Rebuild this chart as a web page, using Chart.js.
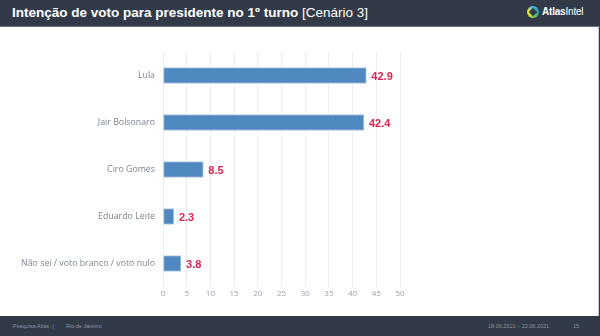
<!DOCTYPE html>
<html>
<head>
<meta charset="utf-8">
<script src="https://cdn.jsdelivr.net/npm/chart.js@4"></script>
<style>
  html, body { margin: 0; padding: 0; }
  body { width: 600px; height: 336px; position: relative; overflow: hidden; background: #323a48; font-family: "Liberation Sans", Arial, sans-serif; }
  #header { position: absolute; left: 0; top: 0; width: 600px; height: 26px; background: #323a48; border-bottom: 1px solid #6b717c; }
  #title { position: absolute; left: 12px; top: 5px; color: #fff; font-size: 13.5px; font-weight: bold; white-space: nowrap; }
  #title span { font-weight: normal; }
  #logo { position: absolute; left: 527px; top: 6px; width: 12px; height: 12px; border-radius: 50%;
    background: conic-gradient(#3fb6e8, #1fa0a0, #8bd14a, #f2e33a, #3fb6e8); }
  #logo::after { content: ""; position: absolute; left: 3px; top: 3px; width: 6px; height: 6px; background: #323a48; transform: rotate(45deg); }
  #brand { position: absolute; left: 542px; top: 6px; color: #fff; font-size: 10px; font-weight: bold; letter-spacing: -0.2px; }
  #brand span { font-weight: normal; }
  #panel { position: absolute; left: 0; top: 27px; width: 598px; height: 289px; background: #fff; border-right: 1px solid #c9ccd1; }
  #footer { position: absolute; left: 0; top: 316px; width: 600px; height: 20px; background: #323a48; color: #8d93a0; font-size: 5.5px; }
  #footer div { position: absolute; top: 7px; white-space: nowrap; }
  canvas { position: absolute; left: 0; top: 0; }
</style>
</head>
<body>
<div id="header">
  <div id="title">Intenção de voto para presidente no 1º turno <span>[Cenário 3]</span></div>
  <div id="logo"></div>
  <div id="brand">Atlas<span>Intel</span></div>
</div>
<div id="panel"><canvas id="chart" width="598" height="289"></canvas></div>
<div id="footer">
  <div style="left:13px">Pesquisa Atlas &nbsp;|</div>
  <div style="left:66px">Rio de Janeiro</div>
  <div style="left:488px">18.06.2021 – 22.06.2021</div>
  <div style="left:573px">15</div>
</div>
<script>
const candidatos = ["Lula", "Jair Bolsonaro", "Ciro Gomes", "Eduardo Leite", "Não sei / voto branco / voto nulo"];
const votos = [42.9, 42.4, 8.5, 2.3, 3.8];
const xMin = 0;
const xMax = 50;
const xPasso = 5;

// rótulos vermelhos ao lado de cada barra
const rotulosPlugin = {
  id: "rotulos",
  afterDatasetsDraw(chart) {
    const ctx = chart.ctx;
    const meta = chart.getDatasetMeta(0);
    ctx.save();
    ctx.font = "bold 11px 'Liberation Sans', Arial, sans-serif";
    ctx.fillStyle = "#e3234f";
    ctx.textBaseline = "middle";
    meta.data.forEach((bar, i) => {
      ctx.fillText(votos[i].toFixed(1), bar.x + 5, bar.y + 1);
    });
    ctx.restore();
  },
};

window.addEventListener("DOMContentLoaded", () => {
  const ctx = document.getElementById("chart").getContext("2d");
  new Chart(ctx, {
    type: "bar",
    data: {
      labels: candidatos,
      datasets: [
        {
          data: votos,
          backgroundColor: "#5089bf",
          borderColor: "#b3cbe4",
          borderWidth: 1,
          borderSkipped: false,
          barThickness: 16,
        },
      ],
    },
    options: {
      indexAxis: "y",
      responsive: false,
      animation: false,
      layout: { padding: { top: 25, right: 198, bottom: 0, left: 0 } },
      scales: {
        x: {
          min: xMin,
          max: xMax,
          ticks: {
            stepSize: xPasso,
            color: "#9aa0ab",
            font: { family: "'Open Sans', sans-serif", size: 8 },
            padding: 2,
          },
          grid: { color: "#ececee", drawTicks: false },
          border: { display: false },
          afterFit: (scale) => { scale.height = 29; },
        },
        y: {
          ticks: {
            color: "#7d8493",
            font: { family: "'Open Sans', sans-serif", size: 8.8 },
            padding: 0,
          },
          grid: { display: false },
          border: { display: false },
          afterFit: (scale) => { scale.width = 163; },
        },
      },
      plugins: {
        legend: { display: false },
        tooltip: { enabled: false },
      },
    },
    plugins: [rotulosPlugin],
  });
});
</script>
</body>
</html>
